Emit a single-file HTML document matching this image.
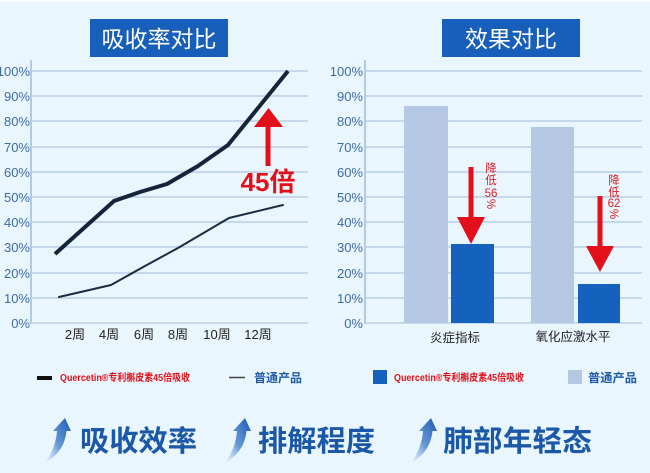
<!DOCTYPE html>
<html>
<head>
<meta charset="utf-8">
<style>
html,body{margin:0;padding:0;background:#e9f6fd;}
svg{display:block;}
text{font-family:"Liberation Sans","Noto Sans CJK SC",sans-serif;}
</style>
</head>
<body>
<svg width="650" height="473" viewBox="0 0 650 473" xmlns="http://www.w3.org/2000/svg">
<defs>
<linearGradient id="ag" x1="1" y1="0" x2="0" y2="1">
<stop offset="0" stop-color="#1a56b2" stop-opacity="1"/>
<stop offset="0.55" stop-color="#3a78c8" stop-opacity="0.75"/>
<stop offset="1" stop-color="#8fb6e6" stop-opacity="0.05"/>
</linearGradient>
</defs>
<rect x="0" y="0" width="650" height="473" fill="#e9f6fd"/>
<rect x="0" y="0" width="650" height="1.5" fill="#f7fcff"/>

<!-- ===== LEFT CHART ===== -->
<rect x="90" y="19" width="138" height="38" fill="#175fba"/>
<text x="159" y="47" font-size="23" fill="#ffffff" text-anchor="middle">吸收率对比</text>

<g stroke="#c6d9ec" stroke-width="2">
<line x1="31" y1="71" x2="308" y2="71"/>
<line x1="31" y1="96" x2="308" y2="96"/>
<line x1="31" y1="121" x2="308" y2="121"/>
<line x1="31" y1="147" x2="308" y2="147"/>
<line x1="31" y1="172" x2="308" y2="172"/>
<line x1="31" y1="197" x2="308" y2="197"/>
<line x1="31" y1="222" x2="308" y2="222"/>
<line x1="31" y1="247" x2="308" y2="247"/>
<line x1="31" y1="273" x2="308" y2="273"/>
<line x1="31" y1="298" x2="308" y2="298"/>
<line x1="31" y1="323" x2="308" y2="323"/>
</g>
<line x1="31" y1="60" x2="31" y2="324" stroke="#b3cbe2" stroke-width="2"/>

<g font-size="13" fill="#3d6aa3" text-anchor="end">
<text x="30" y="76">100%</text>
<text x="30" y="101">90%</text>
<text x="30" y="126">80%</text>
<text x="30" y="152">70%</text>
<text x="30" y="177">60%</text>
<text x="30" y="202">50%</text>
<text x="30" y="227">40%</text>
<text x="30" y="252">30%</text>
<text x="30" y="278">20%</text>
<text x="30" y="303">10%</text>
<text x="30" y="328">0%</text>
</g>

<g font-size="13" fill="#222" text-anchor="middle">
<text x="75" y="339">2周</text>
<text x="109" y="339">4周</text>
<text x="144" y="339">6周</text>
<text x="178" y="339">8周</text>
<text x="217" y="339">10周</text>
<text x="258" y="339">12周</text>
</g>

<polyline points="59,297 111,285 145,266 178,248 229,218 283,205" fill="none" stroke="#1c2b44" stroke-width="2" stroke-linejoin="round" stroke-linecap="round"/>
<polyline points="55,254 114,201 140,192 167,184 198,166 228,145 258,108 288,71" fill="none" stroke="#16243b" stroke-width="4" stroke-linejoin="round"/>

<rect x="265.5" y="125" width="5" height="41" fill="#e3101b"/>
<polygon points="254,127 283,127 268.5,108" fill="#e3101b"/>
<text x="268" y="191" font-size="26" font-weight="bold" fill="#e3101b" text-anchor="middle">45倍</text>

<!-- ===== RIGHT CHART ===== -->
<rect x="442" y="19" width="138" height="38" fill="#175fba"/>
<text x="511" y="47" font-size="23" fill="#ffffff" text-anchor="middle">效果对比</text>

<g stroke="#c6d9ec" stroke-width="2">
<line x1="365" y1="71" x2="642" y2="71"/>
<line x1="365" y1="96" x2="642" y2="96"/>
<line x1="365" y1="121" x2="642" y2="121"/>
<line x1="365" y1="147" x2="642" y2="147"/>
<line x1="365" y1="172" x2="642" y2="172"/>
<line x1="365" y1="197" x2="642" y2="197"/>
<line x1="365" y1="222" x2="642" y2="222"/>
<line x1="365" y1="247" x2="642" y2="247"/>
<line x1="365" y1="273" x2="642" y2="273"/>
<line x1="365" y1="298" x2="642" y2="298"/>
<line x1="365" y1="323" x2="642" y2="323"/>
</g>

<rect x="404" y="106" width="44" height="217" fill="#b5c9e5"/>
<rect x="451" y="244" width="43" height="79" fill="#1562be"/>
<rect x="531" y="127" width="43" height="196" fill="#b5c9e5"/>
<rect x="578" y="284" width="42" height="39" fill="#1562be"/>

<line x1="365" y1="60" x2="365" y2="324" stroke="#b3cbe2" stroke-width="2"/>

<g font-size="13" fill="#3d6aa3" text-anchor="end">
<text x="363" y="76">100%</text>
<text x="363" y="101">90%</text>
<text x="363" y="126">80%</text>
<text x="363" y="152">70%</text>
<text x="363" y="177">60%</text>
<text x="363" y="202">50%</text>
<text x="363" y="227">40%</text>
<text x="363" y="252">30%</text>
<text x="363" y="278">20%</text>
<text x="363" y="303">10%</text>
<text x="363" y="328">0%</text>
</g>

<g font-size="12.5" fill="#222" text-anchor="middle">
<text x="455" y="342">炎症指标</text>
<text x="573" y="341">氧化应激水平</text>
</g>

<!-- red arrows -->
<rect x="468.5" y="167" width="5" height="51" fill="#e3101b"/>
<polygon points="457,217 485,217 471,244" fill="#e3101b"/>
<g font-size="11.5" fill="#dc1c26" text-anchor="middle">
<text x="491" y="172">降</text>
<text x="491" y="184">低</text>
<text x="491" y="197">56</text>
<text x="0" y="0" transform="translate(487,204) rotate(90)" text-anchor="middle" dy="0">%</text>
</g>

<rect x="597.5" y="196" width="5" height="51" fill="#e3101b"/>
<polygon points="586,246 614,246 600,272" fill="#e3101b"/>
<g font-size="11.5" fill="#dc1c26" text-anchor="middle">
<text x="614" y="184">降</text>
<text x="614" y="196">低</text>
<text x="614" y="207">62</text>
<text x="0" y="0" transform="translate(610,214) rotate(90)" text-anchor="middle">%</text>
</g>

<!-- ===== LEGENDS ===== -->
<rect x="37" y="376" width="15" height="4" fill="#111"/>
<text x="60" y="381" font-size="10" font-weight="bold" fill="#e0101a" textLength="130" lengthAdjust="spacingAndGlyphs">Quercetin®专利槲皮素45倍吸收</text>
<line x1="229" y1="377.5" x2="245" y2="377.5" stroke="#444" stroke-width="1.5"/>
<text x="254" y="382" font-size="12" font-weight="bold" fill="#1e5aa8" textLength="48" lengthAdjust="spacingAndGlyphs">普通产品</text>

<rect x="373" y="370" width="14" height="14" fill="#1562be"/>
<text x="394" y="381" font-size="10" font-weight="bold" fill="#e0101a" textLength="130" lengthAdjust="spacingAndGlyphs">Quercetin®专利槲皮素45倍吸收</text>
<rect x="568" y="370" width="14" height="14" fill="#b5c9e5"/>
<text x="588" y="382" font-size="12" font-weight="bold" fill="#1e5aa8" textLength="49" lengthAdjust="spacingAndGlyphs">普通产品</text>

<!-- ===== BOTTOM ===== -->
<g id="ic">
<path d="M65,418 L71,431 L66.5,431 C65,446 57,456 45,463 C52,453 56,443 57,431 L53,431 Z" fill="url(#ag)"/>
</g>
<g transform="translate(180,0)">
<path d="M65,418 L71,431 L66.5,431 C65,446 57,456 45,463 C52,453 56,443 57,431 L53,431 Z" fill="url(#ag)"/>
</g>
<g transform="translate(366,0)">
<path d="M65,418 L71,431 L66.5,431 C65,446 57,456 45,463 C52,453 56,443 57,431 L53,431 Z" fill="url(#ag)"/>
</g>

<g font-size="29" font-weight="bold" fill="#1b58a8">
<text x="80" y="451" textLength="117" lengthAdjust="spacingAndGlyphs">吸收效率</text>
<text x="258" y="451" textLength="117" lengthAdjust="spacingAndGlyphs">排解程度</text>
<text x="443" y="451" textLength="149" lengthAdjust="spacingAndGlyphs">肺部年轻态</text>
</g>
</svg>
</body>
</html>
